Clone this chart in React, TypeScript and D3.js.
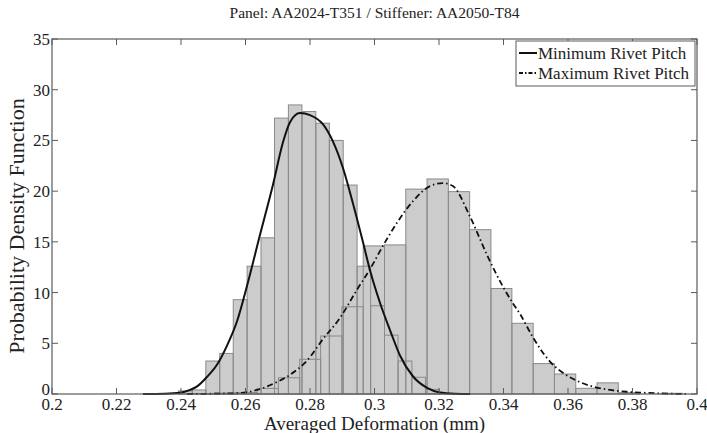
import React from "react";
import * as d3 from "d3";

const titleText = "Panel: AA2024-T351 / Stiffener: AA2050-T84";
const xLabelText = "Averaged Deformation (mm)";
const yLabelText = "Probability Density Function";
const seriesNames = ["Minimum Rivet Pitch", "Maximum Rivet Pitch"];

const xTickValues = [0.2, 0.22, 0.24, 0.26, 0.28, 0.3, 0.32, 0.34, 0.36, 0.38, 0.4];
const xTickLabels = ["0.2", "0.22", "0.24", "0.26", "0.28", "0.3", "0.32", "0.34", "0.36", "0.38", "0.4"];
const yTickValues = [0, 5, 10, 15, 20, 25, 30, 35];
const yTickLabels = ["0", "5", "10", "15", "20", "25", "30", "35"];

// Histogram: minimum rivet pitch
const minBinEdges = [0.2392, 0.2435, 0.2477, 0.252, 0.2562, 0.2605, 0.2648, 0.269, 0.2733, 0.2775, 0.2818, 0.286, 0.2903, 0.2946, 0.2988, 0.3031, 0.3073, 0.3116, 0.3158, 0.3201];
const minBinDensity = [0.3, 0.4, 3.25, 4.0, 9.3, 12.6, 15.4, 27.2, 28.5, 27.85, 26.7, 25.0, 20.6, 12.6, 8.7, 5.8, 3.25, 1.65, 0.45];

// Histogram: maximum rivet pitch
const maxBinEdges = [0.2438, 0.2504, 0.257, 0.2636, 0.2702, 0.2768, 0.2833, 0.2899, 0.2965, 0.3031, 0.3097, 0.3163, 0.3229, 0.3295, 0.3361, 0.3426, 0.3492, 0.3558, 0.3624, 0.369, 0.3756, 0.3822, 0.3888, 0.3954];
const maxBinDensity = [0.05, 0.1, 0.15, 0.55, 1.6, 3.42, 5.72, 8.6, 14.6, 14.7, 20.2, 21.2, 19.95, 16.2, 10.4, 6.97, 3.0, 1.97, 0.56, 1.1, 0.13, 0, 0.07];

// Fitted curves
const minCurveX = [0.2282, 0.235, 0.2397, 0.2428, 0.245, 0.2478, 0.2512, 0.2543, 0.2574, 0.2605, 0.2645, 0.2685, 0.2716, 0.2738, 0.2769, 0.28, 0.284, 0.2871, 0.2902, 0.2933, 0.2964, 0.2986, 0.3017, 0.3048, 0.3079, 0.3119, 0.3163, 0.3203, 0.325, 0.3296];
const minCurveY = [0, 0.03, 0.12, 0.4, 0.75, 1.6, 2.9, 4.8, 7.2, 10.7, 15.7, 20.6, 24.8, 26.8, 27.7, 27.5, 26.6, 24.9, 22.3, 18.8, 15.0, 12.2, 9.0, 6.3, 3.8, 1.75, 0.6, 0.15, 0.03, 0];

const maxCurveX = [0.2419, 0.2561, 0.2636, 0.2685, 0.2738, 0.2791, 0.284, 0.2893, 0.2946, 0.2986, 0.3026, 0.307, 0.3119, 0.3172, 0.3212, 0.3243, 0.3296, 0.3349, 0.3398, 0.343, 0.3451, 0.3491, 0.3544, 0.3575, 0.3628, 0.3678, 0.373, 0.3783, 0.3833, 0.3885, 0.3972];
const maxCurveY = [0, 0.07, 0.4, 1.0, 1.9, 3.3, 5.4, 7.5, 10.3, 12.3, 14.6, 16.9, 19.0, 20.5, 20.8, 20.5, 17.5, 13.7, 10.6, 8.9, 7.9, 5.6, 3.2, 2.3, 1.3, 0.72, 0.4, 0.22, 0.13, 0.06, 0];

const FONT = "'Liberation Serif', 'Times New Roman', serif";

export default function App() {
  const W = 707, H = 433;
  const L = 52, R = 697, T = 39, B = 394;
  const x = d3.scaleLinear().domain([0.2, 0.4]).range([L, R]);
  const y = d3.scaleLinear().domain([0, 35]).range([B, T]);
  const tickLen = 6;
  const axisColor = "#5a5a5a";

  const bars = (edges: number[], vals: number[]) =>
    vals.map((v, i) => ({ x0: x(edges[i]), x1: x(edges[i + 1]), yTop: y(v), v }));
  const minBars = bars(minBinEdges, minBinDensity).filter(b => b.v > 0);
  const maxBars = bars(maxBinEdges, maxBinDensity).filter(b => b.v > 0);
  const allBars = [...minBars, ...maxBars];

  const line = d3.line<[number, number]>().x(d => x(d[0])).y(d => y(d[1])).curve(d3.curveMonotoneX);
  const minPath = line(minCurveX.map((v, i) => [v, minCurveY[i]] as [number, number])) || "";
  const maxPath = line(maxCurveX.map((v, i) => [v, maxCurveY[i]] as [number, number])) || "";

  const dashPattern = "6,3,1.5,3";

  const legL = 516, legT = 41, legR = 695, legB = 86;

  return (
    <div style={{ position: "absolute", left: 0, top: 0 }}>
      <svg width={W} height={H} style={{ display: "block", background: "#fff" }} fontFamily={FONT}>
        <rect x={0} y={0} width={W} height={H} fill="#fff" />
        {allBars.map((b, i) => (
          <rect key={"f" + i} x={b.x0} y={b.yTop} width={b.x1 - b.x0} height={B - b.yTop} fill="#cccccc" />
        ))}
        {allBars.map((b, i) => (
          <rect key={"o" + i} x={b.x0} y={b.yTop} width={b.x1 - b.x0} height={B - b.yTop} fill="none" stroke="#8a8a8a" strokeWidth={1} />
        ))}
        <path d={minPath} fill="none" stroke="#111" strokeWidth={2} />
        <path d={maxPath} fill="none" stroke="#111" strokeWidth={1.8} strokeDasharray={dashPattern} />

        <rect x={L} y={T} width={R - L} height={B - T} fill="none" stroke={axisColor} strokeWidth={1.2} />
        {xTickValues.map((t, i) => (
          <g key={"xt" + i}>
            <line x1={x(t)} x2={x(t)} y1={B} y2={B - tickLen} stroke={axisColor} />
            <line x1={x(t)} x2={x(t)} y1={T} y2={T + tickLen} stroke={axisColor} />
            <text x={x(t)} y={410} fontSize={17} textAnchor="middle" fill="#222">{xTickLabels[i]}</text>
          </g>
        ))}
        {yTickValues.map((t, i) => (
          <g key={"yt" + i}>
            <line x1={L} x2={L + tickLen} y1={y(t)} y2={y(t)} stroke={axisColor} />
            <line x1={R} x2={R - tickLen} y1={y(t)} y2={y(t)} stroke={axisColor} />
            <text x={50} y={y(t) - (t === 0 ? 5 : 0)} dy="0.35em" fontSize={17} textAnchor="end" fill="#222">{yTickLabels[i]}</text>
          </g>
        ))}

        <text x={(L + R) / 2} y={18} fontSize={15.5} textAnchor="middle" fill="#222">{titleText}</text>
        <text x={(L + R) / 2} y={430} fontSize={19} textAnchor="middle" fill="#222">{xLabelText}</text>
        <text transform={`translate(24,${226}) rotate(-90)`} fontSize={22} textAnchor="middle" fill="#222">{yLabelText}</text>

        <rect x={legL} y={legT} width={legR - legL} height={legB - legT} fill="#fff" stroke={axisColor} strokeWidth={1} />
        <line x1={519} x2={537} y1={53} y2={53} stroke="#111" strokeWidth={2} />
        <text x={538} y={53} dy="0.35em" fontSize={17} fill="#222">{seriesNames[0]}</text>
        <line x1={519} x2={537} y1={73} y2={73} stroke="#111" strokeWidth={1.8} strokeDasharray="4,2,1.5,2" />
        <text x={538} y={73} dy="0.35em" fontSize={17} fill="#222">{seriesNames[1]}</text>
      </svg>
    </div>
  );
}
